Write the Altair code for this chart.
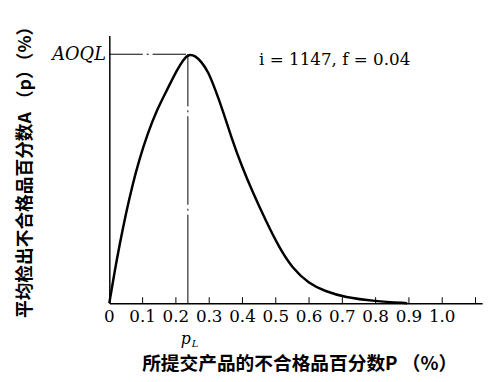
import altair as alt
import pandas as pd

# Curve: p (%) vs A(p) (%)
p_vals = [0, 0.0154, 0.0303, 0.0499, 0.0697, 0.0896, 0.1142, 0.1439, 0.1736, 0.2033,
          0.2231, 0.2380, 0.2576, 0.2774, 0.2973, 0.3169, 0.3418, 0.3665, 0.3961,
          0.4309, 0.4703, 0.5098, 0.5496, 0.5988, 0.6484, 0.7077, 0.7967, 0.8947]
a_vals = [0, 0.0246, 0.0462, 0.0721, 0.0951, 0.1150, 0.1357, 0.1559, 0.1715, 0.1875,
          0.1960, 0.2000, 0.1990, 0.1937, 0.1858, 0.1726, 0.1542, 0.1332, 0.1113,
          0.0890, 0.0661, 0.0448, 0.0281, 0.0158, 0.0095, 0.0047, 0.0016, 0.0]

x_labels = [0, 0.1, 0.2, 0.3, 0.4, 0.5, 0.6, 0.7, 0.8, 0.9, 1.0]
x_label_text = ["0", "0.1", "0.2", "0.3", "0.4", "0.5", "0.6", "0.7", "0.8", "0.9", "1.0"]
x_ticks = [0.1, 0.2, 0.3, 0.4, 0.5, 0.6, 0.7, 0.8, 0.9, 1.0, 1.1]
p_L = 0.236
aoql = 0.2
note_text = "i = 1147, f = 0.04"
note_p = 0.677
note_a = 0.195

curve_df = pd.DataFrame({"p": p_vals, "A": a_vals})
ticks_df = pd.DataFrame({"p": x_ticks})
labels_df = pd.DataFrame({"p": x_labels, "t": x_label_text})
hline_df = pd.DataFrame({"p": [0], "p2": [p_L], "A": [aoql]})
vline_df = pd.DataFrame({"p": [p_L], "A": [0], "A2": [aoql]})
pl_df = pd.DataFrame({"p": [p_L]})
note_df = pd.DataFrame({"p": [note_p], "A": [note_a], "t": [note_text]})

xscale = alt.Scale(domain=[0, 1.12], nice=False, zero=False)
yscale = alt.Scale(domain=[0, 0.215], nice=False)

x_axis = alt.Axis(
    values=x_labels, labels=False,
    ticks=False, grid=False,
    domainColor="black", domainWidth=1.5,
    title="所提交产品的不合格品百分数P （%）",
    titleFont="Noto Sans CJK SC", titleFontSize=19, titleFontWeight="bold",
    titleColor="black", titleX=193, titleY=61, titleAlign="center", titleBaseline="middle",
)
y_axis = alt.Axis(
    values=[aoql], labelExpr="'AOQL'",
    ticks=False, grid=False,
    domainColor="black", domainWidth=1.5,
    labelFont="DejaVu Serif", labelFontStyle="italic", labelFontSize=18,
    labelColor="black", labelPadding=4,
    title="平均检出不合格品百分数A （p）（%）",
    titleFont="Noto Sans CJK SC", titleFontSize=18, titleFontWeight="bold",
    titleColor="black", titleAngle=270, titleX=-85, titleY=134,
    titleAlign="center", titleBaseline="middle",
)

curve = alt.Chart(curve_df).mark_line(
    color="black", strokeWidth=2.5, interpolate="basis"
).encode(
    x=alt.X("p:Q", scale=xscale, axis=x_axis),
    y=alt.Y("A:Q", scale=yscale, axis=y_axis),
)

hline = alt.Chart(hline_df).mark_rule(
    color="black", strokeWidth=1, strokeDash=[34, 4, 2, 4]
).encode(x="p:Q", x2="p2:Q", y="A:Q")

vline = alt.Chart(vline_df).mark_rule(
    color="black", strokeWidth=1, strokeDash=[90, 4, 2, 4]
).encode(x="p:Q", y="A:Q", y2="A2:Q")

ticks = alt.Chart(ticks_df).mark_rule(color="black", strokeWidth=1).encode(
    x="p:Q", y=alt.value(272), y2=alt.value(266)
)

tick_labels = alt.Chart(labels_df).mark_text(
    font="DejaVu Serif", fontSize=17, color="black", baseline="middle"
).encode(x="p:Q", y=alt.value(286), text="t:N")

pl_p = alt.Chart(pl_df).mark_text(
    text="p", font="DejaVu Serif", fontStyle="italic", fontSize=16, color="black",
    align="right", dx=3
).encode(x="p:Q", y=alt.value(309))
pl_sub = alt.Chart(pl_df).mark_text(
    text="L", font="DejaVu Serif", fontStyle="italic", fontSize=10, color="black",
    align="left", dx=4, dy=5
).encode(x="p:Q", y=alt.value(309))

note = alt.Chart(note_df).mark_text(
    font="DejaVu Serif", fontSize=17, color="black"
).encode(x="p:Q", y="A:Q", text="t:N")

chart = alt.layer(curve, hline, vline, ticks, tick_labels, pl_p, pl_sub, note).properties(
    width=379, height=272,
    autosize=alt.AutoSizeParams(type="none"),
    padding={"left": 103, "top": 25, "right": 10, "bottom": 70},
    background="white",
).configure_view(stroke=None)

chart.save("out.html", embed_options={"renderer": "svg", "actions": False})
